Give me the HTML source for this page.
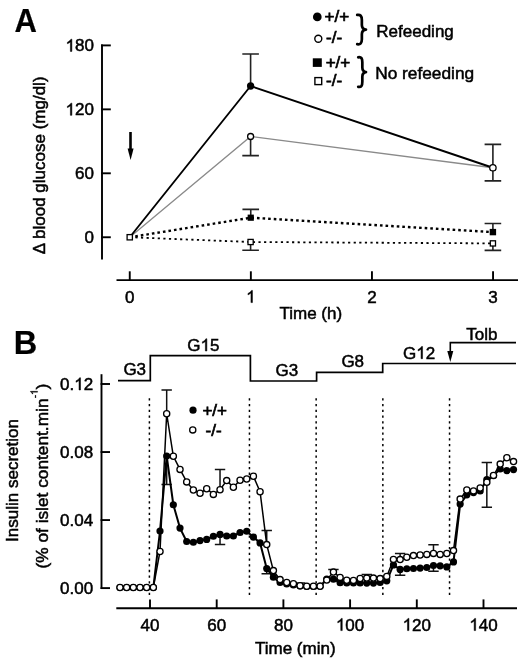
<!DOCTYPE html>
<html><head><meta charset="utf-8"><style>
html,body{margin:0;padding:0;background:#fff;}
svg{display:block;will-change:transform;}
text{font-family:"Liberation Sans",sans-serif;font-size:17px;fill:#000;stroke:#000;stroke-width:0.5px;}
text.big{font-size:32.5px;font-weight:bold;stroke-width:0.2px;}
text.lg{stroke-width:0.7px;}
.ax{stroke:#000;stroke-width:1.9;fill:none;}
</style></head><body>
<svg width="520" height="660" viewBox="0 0 520 660">
<rect width="520" height="660" fill="#fff"/>
<text transform="translate(14.6,32) scale(0.955,1)" class="big">A</text>
<line x1="102" y1="44.4" x2="102" y2="259.5" class="ax"/>
<line x1="101" y1="45.4" x2="110.8" y2="45.4" class="ax"/>
<text x="65.54" y="51.4" style="font-kerning:none"> 80</text>
<path d="M71.87 51.4 L70.38 51.4 L70.38 41.88 Q69.84 42.39 68.96 42.91 Q68.08 43.42 67.39 43.68 L67.39 42.24 Q68.64 41.65 69.58 40.81 Q70.52 39.97 70.91 39.18 L71.87 39.18Z" fill="#000" stroke="#000" stroke-width="0.5"/>
<line x1="101" y1="109.35" x2="110.8" y2="109.35" class="ax"/>
<text x="65.54" y="115.35" style="font-kerning:none"> 20</text>
<path d="M71.87 115.35 L70.38 115.35 L70.38 105.83 Q69.84 106.34 68.96 106.86 Q68.08 107.37 67.39 107.63 L67.39 106.19 Q68.64 105.6 69.58 104.76 Q70.52 103.92 70.91 103.13 L71.87 103.13Z" fill="#000" stroke="#000" stroke-width="0.5"/>
<line x1="101" y1="173.3" x2="110.8" y2="173.3" class="ax"/>
<text x="74.99" y="179.3" style="font-kerning:none">60</text>
<line x1="101" y1="237.25" x2="110.8" y2="237.25" class="ax"/>
<text x="84.45" y="243.25" style="font-kerning:none">0</text>
<line x1="116.5" y1="280.1" x2="518" y2="280.1" class="ax"/>
<line x1="129.75" y1="271.3" x2="129.75" y2="281" class="ax"/>
<text x="125.02" y="302.6" style="font-kerning:none">0</text>
<line x1="250.85" y1="271.3" x2="250.85" y2="281" class="ax"/>
<text x="246.12" y="302.6" style="font-kerning:none"> </text>
<path d="M252.46 302.6 L250.96 302.6 L250.96 293.08 Q250.42 293.59 249.54 294.11 Q248.66 294.62 247.97 294.88 L247.97 293.44 Q249.23 292.85 250.17 292.01 Q251.1 291.17 251.49 290.38 L252.46 290.38Z" fill="#000" stroke="#000" stroke-width="0.5"/>
<line x1="371.95" y1="271.3" x2="371.95" y2="281" class="ax"/>
<text x="367.22" y="302.6" style="font-kerning:none">2</text>
<line x1="493.05" y1="271.3" x2="493.05" y2="281" class="ax"/>
<text x="488.32" y="302.6" style="font-kerning:none">3</text>
<text x="279.5" y="319.3">Time (h)</text>
<text transform="translate(44.6,165.3) rotate(-90)" text-anchor="middle">&#916; blood glucose (mg/dl)</text>
<line x1="130.5" y1="132" x2="130.5" y2="150" stroke="#000" stroke-width="2.6"/>
<path d="M127.6 148.5 L133.6 148.5 L130.6 160 Z" fill="#000"/>
<path d="M250.6 86 V54 M242.3 54 H258.9" stroke="#222" stroke-width="1.6" fill="none"/>
<path d="M250.6 136.5 V155.6 M242.3 155.6 H258.9" stroke="#222" stroke-width="1.6" fill="none"/>
<path d="M250.75 217.7 V209.4 M242.45 209.4 H259.05" stroke="#222" stroke-width="1.6" fill="none"/>
<path d="M250.6 242 V250.25 M242.3 250.25 H258.9" stroke="#222" stroke-width="1.6" fill="none"/>
<path d="M492.9 167.75 V144.4 M484.6 144.4 H501.2" stroke="#222" stroke-width="1.6" fill="none"/>
<path d="M492.9 167.75 V180.9 M484.6 180.9 H501.2" stroke="#222" stroke-width="1.6" fill="none"/>
<path d="M492.9 232.1 V223.5 M484.6 223.5 H501.2" stroke="#222" stroke-width="1.6" fill="none"/>
<path d="M492.9 243.4 V250.4 M484.6 250.4 H501.2" stroke="#222" stroke-width="1.6" fill="none"/>
<polyline points="129.75,237.25 250.6,136.5 492.9,167.75" fill="none" stroke="#8a8a8a" stroke-width="1.3"/>
<polyline points="129.75,237.25 250.6,86 492.9,167.75" fill="none" stroke="#000" stroke-width="1.9"/>
<polyline points="129.75,237.25 250.75,217.7 492.9,232.1" fill="none" stroke="#000" stroke-width="2.4" stroke-dasharray="2.6 3.0"/>
<polyline points="129.75,237.25 250.6,242 492.9,243.4" fill="none" stroke="#000" stroke-width="1.8" stroke-dasharray="2.2 3.4"/>
<circle cx="250.6" cy="86" r="3.65" fill="#000"/>
<circle cx="250.6" cy="136.5" r="3" fill="#fff" stroke="#000" stroke-width="1.3"/>
<circle cx="492.9" cy="167.75" r="3.2" fill="#fff" stroke="#000" stroke-width="1.3"/>
<rect x="247.65" y="214.6" width="6.2" height="6.2" fill="#000"/>
<rect x="248" y="239.4" width="5.2" height="5.2" fill="#fff" stroke="#000" stroke-width="1.3"/>
<rect x="489.7" y="228.9" width="6.4" height="6.4" fill="#000"/>
<rect x="490.3" y="240.8" width="5.2" height="5.2" fill="#fff" stroke="#000" stroke-width="1.3"/>
<rect x="127.1" y="234.6" width="5.3" height="5.3" fill="#fff" stroke="#000" stroke-width="1.3"/>
<circle cx="317.3" cy="16.9" r="4.35" fill="#000"/>
<text x="324.6" y="21.8" class="lg">+/+</text>
<circle cx="318.3" cy="38.8" r="3.5" fill="#fff" stroke="#000" stroke-width="1.4"/>
<text x="326" y="43.0" class="lg">-/-</text>
<rect x="312.8" y="58.3" width="9" height="8.6" fill="#000"/>
<text x="325.7" y="68.1" class="lg">+/+</text>
<rect x="314.9" y="77.6" width="6.8" height="7" fill="#fff" stroke="#000" stroke-width="1.4"/>
<text x="326" y="85.9" class="lg">-/-</text>
<path d="M357.2 14.9 C360.4 14.3 361.86 16.1 361.86 19.9 L361.86 24.95 C361.86 27.95 363.46 29.25 366 29.55 C363.46 29.85 361.86 31.15 361.86 34.15 L361.86 39.2 C361.86 43 360.4 44.8 357.2 44.2" fill="none" stroke="#000" stroke-width="2.7" stroke-linecap="round" stroke-linejoin="round"/>
<text x="376.3" y="36.8">Refeeding</text>
<path d="M358.2 57.3 C361.4 56.7 362.33 58.5 362.33 62.3 L362.33 67.45 C362.33 70.45 363.93 71.75 366 72.05 C363.93 72.35 362.33 73.65 362.33 76.65 L362.33 81.8 C362.33 85.6 361.4 87.4 358.2 86.8" fill="none" stroke="#000" stroke-width="2.7" stroke-linecap="round" stroke-linejoin="round"/>
<text x="375.2" y="78.5" style="font-size:17.3px">No refeeding</text>
<text x="13.8" y="354.3" class="big">B</text>
<polyline points="118,380.6 150.3,380.6 150.3,355.7 250.4,355.7 250.4,381 316.6,381 316.6,372.4 382.7,372.4 382.7,363.5 516,363.5" fill="none" stroke="#000" stroke-width="1.7"/>
<text x="123.4" y="375">G3</text>
<text x="187.3" y="351" style="font-kerning:none">G 5</text>
<path d="M206.86 351 L205.36 351 L205.36 341.48 Q204.82 341.99 203.94 342.51 Q203.06 343.02 202.37 343.28 L202.37 341.84 Q203.63 341.25 204.57 340.41 Q205.5 339.57 205.89 338.78 L206.86 338.78Z" fill="#000" stroke="#000" stroke-width="0.5"/>
<text x="275.6" y="376.2">G3</text>
<text x="341.4" y="366.8">G8</text>
<text x="403" y="358.7" style="font-kerning:none">G 2</text>
<path d="M422.56 358.7 L421.06 358.7 L421.06 349.18 Q420.52 349.69 419.64 350.21 Q418.76 350.72 418.07 350.98 L418.07 349.54 Q419.33 348.95 420.27 348.11 Q421.2 347.27 421.59 346.48 L422.56 346.48Z" fill="#000" stroke="#000" stroke-width="0.5"/>
<text x="466.3" y="340.2">Tolb</text>
<polyline points="516,342.6 450.3,342.6 450.3,352" fill="none" stroke="#000" stroke-width="1.6"/>
<path d="M447.3 351 L453.3 351 L450.3 362 Z" fill="#000"/>
<line x1="101.5" y1="374.2" x2="101.5" y2="589" class="ax"/>
<line x1="100.6" y1="384" x2="110" y2="384" class="ax"/>
<text x="60.01" y="390" style="font-kerning:none">0. 2</text>
<path d="M80.52 390 L79.03 390 L79.03 380.48 Q78.49 380.99 77.61 381.51 Q76.73 382.02 76.04 382.28 L76.04 380.84 Q77.3 380.25 78.23 379.41 Q79.17 378.57 79.56 377.78 L80.52 377.78Z" fill="#000" stroke="#000" stroke-width="0.5"/>
<line x1="100.6" y1="452.03" x2="110" y2="452.03" class="ax"/>
<text x="60.01" y="458.03" style="font-kerning:none">0.08</text>
<line x1="100.6" y1="520.07" x2="110" y2="520.07" class="ax"/>
<text x="60.01" y="526.07" style="font-kerning:none">0.04</text>
<line x1="100.6" y1="588.1" x2="110" y2="588.1" class="ax"/>
<text x="60.01" y="594.1" style="font-kerning:none">0.00</text>
<line x1="116.3" y1="608.3" x2="517" y2="608.3" class="ax"/>
<line x1="150" y1="599.4" x2="150" y2="609" class="ax"/>
<text x="140.55" y="630.6" style="font-kerning:none">40</text>
<line x1="216.7" y1="599.4" x2="216.7" y2="609" class="ax"/>
<text x="207.25" y="630.6" style="font-kerning:none">60</text>
<line x1="283.4" y1="599.4" x2="283.4" y2="609" class="ax"/>
<text x="273.95" y="630.6" style="font-kerning:none">80</text>
<line x1="350.1" y1="599.4" x2="350.1" y2="609" class="ax"/>
<text x="335.92" y="630.6" style="font-kerning:none"> 00</text>
<path d="M342.25 630.6 L340.76 630.6 L340.76 621.08 Q340.22 621.59 339.34 622.11 Q338.46 622.62 337.77 622.88 L337.77 621.44 Q339.02 620.85 339.96 620.01 Q340.9 619.17 341.29 618.38 L342.25 618.38Z" fill="#000" stroke="#000" stroke-width="0.5"/>
<line x1="416.8" y1="599.4" x2="416.8" y2="609" class="ax"/>
<text x="402.62" y="630.6" style="font-kerning:none"> 20</text>
<path d="M408.95 630.6 L407.46 630.6 L407.46 621.08 Q406.92 621.59 406.04 622.11 Q405.16 622.62 404.47 622.88 L404.47 621.44 Q405.72 620.85 406.66 620.01 Q407.6 619.17 407.99 618.38 L408.95 618.38Z" fill="#000" stroke="#000" stroke-width="0.5"/>
<line x1="483.5" y1="599.4" x2="483.5" y2="609" class="ax"/>
<text x="469.32" y="630.6" style="font-kerning:none"> 40</text>
<path d="M475.65 630.6 L474.16 630.6 L474.16 621.08 Q473.62 621.59 472.74 622.11 Q471.86 622.62 471.17 622.88 L471.17 621.44 Q472.42 620.85 473.36 620.01 Q474.3 619.17 474.69 618.38 L475.65 618.38Z" fill="#000" stroke="#000" stroke-width="0.5"/>
<text x="255" y="654.3">Time (min)</text>
<text transform="translate(18.4,480.5) rotate(-90)" text-anchor="middle">Insulin secretion</text>
<g transform="translate(47.6,476.1) rotate(-90)">
<text x="-92.42" y="0" style="font-size:17.3px">(% of islet content.min</text>
<text x="77.77" y="-10" style="font-size:10px;stroke-width:0.35px">-</text>
<path d="M84.82 -10 L83.94 -10 L83.94 -15.6 Q83.63 -15.3 83.11 -15 Q82.59 -14.69 82.19 -14.54 L82.19 -15.39 Q82.92 -15.74 83.48 -16.23 Q84.03 -16.72 84.26 -17.19 L84.82 -17.19Z" fill="#000" stroke="#000" stroke-width="0.35"/>
<text x="86.66" y="0" style="font-size:17.3px">)</text>
</g>
<line x1="149.4" y1="398.25" x2="149.4" y2="595.5" stroke="#000" stroke-width="1.5" stroke-dasharray="2.3 3.42"/>
<line x1="249.45" y1="398.25" x2="249.45" y2="595.5" stroke="#000" stroke-width="1.5" stroke-dasharray="2.3 3.42"/>
<line x1="316.15" y1="398.25" x2="316.15" y2="595.5" stroke="#000" stroke-width="1.5" stroke-dasharray="2.3 3.42"/>
<line x1="382.85" y1="398.25" x2="382.85" y2="595.5" stroke="#000" stroke-width="1.5" stroke-dasharray="2.3 3.42"/>
<line x1="449.55" y1="398.25" x2="449.55" y2="595.5" stroke="#000" stroke-width="1.5" stroke-dasharray="2.3 3.42"/>
<path d="M166.68 413.75 V390 M161.48 390 H171.88" stroke="#111" stroke-width="1.5" fill="none"/>
<path d="M166.68 456 V484.4 M161.48 484.4 H171.88" stroke="#111" stroke-width="1.5" fill="none"/>
<path d="M220.03 489.75 V469.4 M214.84 469.4 H225.23" stroke="#111" stroke-width="1.5" fill="none"/>
<path d="M220.03 534.4 V544.4 M214.84 544.4 H225.23" stroke="#111" stroke-width="1.5" fill="none"/>
<path d="M266.73 544.6 V530.6 M261.53 530.6 H271.93" stroke="#111" stroke-width="1.5" fill="none"/>
<path d="M266.73 568.6 V573.8 M261.53 573.8 H271.93" stroke="#111" stroke-width="1.5" fill="none"/>
<path d="M300.07 585.7 V583 M294.88 583 H305.27" stroke="#111" stroke-width="1.5" fill="none"/>
<path d="M333.43 572.1 V569.6 M328.23 569.6 H338.62" stroke="#111" stroke-width="1.5" fill="none"/>
<path d="M366.77 578.1 V574.5 M361.57 574.5 H371.97" stroke="#111" stroke-width="1.5" fill="none"/>
<path d="M400.12 559.6 V553.5 M394.93 553.5 H405.32" stroke="#111" stroke-width="1.5" fill="none"/>
<path d="M400.12 569.4 V575.2 M394.93 575.2 H405.32" stroke="#111" stroke-width="1.5" fill="none"/>
<path d="M433.48 553.4 V544.75 M428.28 544.75 H438.68" stroke="#111" stroke-width="1.5" fill="none"/>
<path d="M433.48 565.5 V571.2 M428.28 571.2 H438.68" stroke="#111" stroke-width="1.5" fill="none"/>
<path d="M486.83 482.3 V462.6 M481.63 462.6 H492.03" stroke="#111" stroke-width="1.5" fill="none"/>
<path d="M486.83 479.5 V507.3 M481.63 507.3 H492.03" stroke="#111" stroke-width="1.5" fill="none"/>
<polyline points="153.34,587.5 160,531 166.68,456 173.34,504.75 180.01,528.1 186.69,541.5 193.35,542.25 200.03,540.6 206.69,539.4 213.37,536.25 220.03,534.4 226.7,536 233.38,536 240.05,532.5 246.72,531.25 253.38,537.1 260.06,542.9 266.73,568.6 273.39,577.2 280.06,582.5 286.74,584 293.4,585 300.07,586 306.75,586.5 313.41,586.5 320.09,586.2 326.75,579 333.43,579.2 340.1,582.7 346.76,583 353.44,583 360.11,583 366.77,583.1 373.44,583.1 380.12,582.5 386.78,580.8 393.45,564.9 400.12,569.4 406.8,568.75 413.46,568.5 420.13,568.1 426.81,567.5 433.48,565.5 440.14,565.8 446.81,566.9 453.49,561.9 460.15,504.1 466.82,494.8 473.5,492.6 480.17,491 486.83,479.5 493.5,475.5 500.18,469 506.84,470.6 513.51,469.6" fill="none" stroke="#000" stroke-width="2.0"/>
<circle cx="119.98" cy="587.5" r="3.6" fill="#000"/>
<circle cx="126.66" cy="587.5" r="3.6" fill="#000"/>
<circle cx="133.32" cy="587.5" r="3.6" fill="#000"/>
<circle cx="140" cy="587.5" r="3.6" fill="#000"/>
<circle cx="146.66" cy="587.5" r="3.6" fill="#000"/>
<circle cx="153.34" cy="587.5" r="3.6" fill="#000"/>
<circle cx="160" cy="531" r="3.6" fill="#000"/>
<circle cx="166.68" cy="456" r="3.6" fill="#000"/>
<circle cx="173.34" cy="504.75" r="3.6" fill="#000"/>
<circle cx="180.01" cy="528.1" r="3.6" fill="#000"/>
<circle cx="186.69" cy="541.5" r="3.6" fill="#000"/>
<circle cx="193.35" cy="542.25" r="3.6" fill="#000"/>
<circle cx="200.03" cy="540.6" r="3.6" fill="#000"/>
<circle cx="206.69" cy="539.4" r="3.6" fill="#000"/>
<circle cx="213.37" cy="536.25" r="3.6" fill="#000"/>
<circle cx="220.03" cy="534.4" r="3.6" fill="#000"/>
<circle cx="226.7" cy="536" r="3.6" fill="#000"/>
<circle cx="233.38" cy="536" r="3.6" fill="#000"/>
<circle cx="240.05" cy="532.5" r="3.6" fill="#000"/>
<circle cx="246.72" cy="531.25" r="3.6" fill="#000"/>
<circle cx="253.38" cy="537.1" r="3.6" fill="#000"/>
<circle cx="260.06" cy="542.9" r="3.6" fill="#000"/>
<circle cx="266.73" cy="568.6" r="3.6" fill="#000"/>
<circle cx="273.39" cy="577.2" r="3.6" fill="#000"/>
<circle cx="280.06" cy="582.5" r="3.6" fill="#000"/>
<circle cx="286.74" cy="584" r="3.6" fill="#000"/>
<circle cx="293.4" cy="585" r="3.6" fill="#000"/>
<circle cx="300.07" cy="586" r="3.6" fill="#000"/>
<circle cx="306.75" cy="586.5" r="3.6" fill="#000"/>
<circle cx="313.41" cy="586.5" r="3.6" fill="#000"/>
<circle cx="320.09" cy="586.2" r="3.6" fill="#000"/>
<circle cx="326.75" cy="579" r="3.6" fill="#000"/>
<circle cx="333.43" cy="579.2" r="3.6" fill="#000"/>
<circle cx="340.1" cy="582.7" r="3.6" fill="#000"/>
<circle cx="346.76" cy="583" r="3.6" fill="#000"/>
<circle cx="353.44" cy="583" r="3.6" fill="#000"/>
<circle cx="360.11" cy="583" r="3.6" fill="#000"/>
<circle cx="366.77" cy="583.1" r="3.6" fill="#000"/>
<circle cx="373.44" cy="583.1" r="3.6" fill="#000"/>
<circle cx="380.12" cy="582.5" r="3.6" fill="#000"/>
<circle cx="386.78" cy="580.8" r="3.6" fill="#000"/>
<circle cx="393.45" cy="564.9" r="3.6" fill="#000"/>
<circle cx="400.12" cy="569.4" r="3.6" fill="#000"/>
<circle cx="406.8" cy="568.75" r="3.6" fill="#000"/>
<circle cx="413.46" cy="568.5" r="3.6" fill="#000"/>
<circle cx="420.13" cy="568.1" r="3.6" fill="#000"/>
<circle cx="426.81" cy="567.5" r="3.6" fill="#000"/>
<circle cx="433.48" cy="565.5" r="3.6" fill="#000"/>
<circle cx="440.14" cy="565.8" r="3.6" fill="#000"/>
<circle cx="446.81" cy="566.9" r="3.6" fill="#000"/>
<circle cx="453.49" cy="561.9" r="3.6" fill="#000"/>
<circle cx="460.15" cy="504.1" r="3.6" fill="#000"/>
<circle cx="466.82" cy="494.8" r="3.6" fill="#000"/>
<circle cx="473.5" cy="492.6" r="3.6" fill="#000"/>
<circle cx="480.17" cy="491" r="3.6" fill="#000"/>
<circle cx="486.83" cy="479.5" r="3.6" fill="#000"/>
<circle cx="493.5" cy="475.5" r="3.6" fill="#000"/>
<circle cx="500.18" cy="469" r="3.6" fill="#000"/>
<circle cx="506.84" cy="470.6" r="3.6" fill="#000"/>
<circle cx="513.51" cy="469.6" r="3.6" fill="#000"/>
<polyline points="119.98,587.5 126.66,587.5 133.32,587.5 140,587.5 146.66,587.5 153.34,587.5 160,551.5 166.68,413.75 173.34,456.25 180.01,469.4 186.69,481.9 193.35,490 200.03,493.3 206.69,488.75 213.37,494.4 220.03,489.75 226.7,480.6 233.38,487.25 240.05,480.25 246.72,479 253.38,476.25 260.06,491.7 266.73,544.6 273.39,570.6 280.06,579.6 286.74,582.5 293.4,583.7 300.07,585.7 306.75,586.25 313.41,586.25 320.09,586.2 326.75,580.1 333.43,572.1 340.1,577.4 346.76,580.2 353.44,580.4 360.11,578.5 366.77,578.1 373.44,578.1 380.12,578.6 386.78,576.4 393.45,559.4 400.12,559.6 406.8,557.25 413.46,555.6 420.13,555 426.81,554.4 433.48,553.4 440.14,554.4 446.81,553.5 453.49,550.6 460.15,499.1 466.82,490 473.5,490.9 480.17,488 486.83,482.3 493.5,475.4 500.18,464.1 506.84,457.7 513.51,461.6" fill="none" stroke="#000" stroke-width="1.5"/>
<circle cx="119.98" cy="587.5" r="3.1" fill="#fff" stroke="#000" stroke-width="1.3"/>
<circle cx="126.66" cy="587.5" r="3.1" fill="#fff" stroke="#000" stroke-width="1.3"/>
<circle cx="133.32" cy="587.5" r="3.1" fill="#fff" stroke="#000" stroke-width="1.3"/>
<circle cx="140" cy="587.5" r="3.1" fill="#fff" stroke="#000" stroke-width="1.3"/>
<circle cx="146.66" cy="587.5" r="3.1" fill="#fff" stroke="#000" stroke-width="1.3"/>
<circle cx="153.34" cy="587.5" r="3.1" fill="#fff" stroke="#000" stroke-width="1.3"/>
<circle cx="160" cy="551.5" r="3.1" fill="#fff" stroke="#000" stroke-width="1.3"/>
<circle cx="166.68" cy="413.75" r="3.1" fill="#fff" stroke="#000" stroke-width="1.3"/>
<circle cx="173.34" cy="456.25" r="3.1" fill="#fff" stroke="#000" stroke-width="1.3"/>
<circle cx="180.01" cy="469.4" r="3.1" fill="#fff" stroke="#000" stroke-width="1.3"/>
<circle cx="186.69" cy="481.9" r="3.1" fill="#fff" stroke="#000" stroke-width="1.3"/>
<circle cx="193.35" cy="490" r="3.1" fill="#fff" stroke="#000" stroke-width="1.3"/>
<circle cx="200.03" cy="493.3" r="3.1" fill="#fff" stroke="#000" stroke-width="1.3"/>
<circle cx="206.69" cy="488.75" r="3.1" fill="#fff" stroke="#000" stroke-width="1.3"/>
<circle cx="213.37" cy="494.4" r="3.1" fill="#fff" stroke="#000" stroke-width="1.3"/>
<circle cx="220.03" cy="489.75" r="3.1" fill="#fff" stroke="#000" stroke-width="1.3"/>
<circle cx="226.7" cy="480.6" r="3.1" fill="#fff" stroke="#000" stroke-width="1.3"/>
<circle cx="233.38" cy="487.25" r="3.1" fill="#fff" stroke="#000" stroke-width="1.3"/>
<circle cx="240.05" cy="480.25" r="3.1" fill="#fff" stroke="#000" stroke-width="1.3"/>
<circle cx="246.72" cy="479" r="3.1" fill="#fff" stroke="#000" stroke-width="1.3"/>
<circle cx="253.38" cy="476.25" r="3.1" fill="#fff" stroke="#000" stroke-width="1.3"/>
<circle cx="260.06" cy="491.7" r="3.1" fill="#fff" stroke="#000" stroke-width="1.3"/>
<circle cx="266.73" cy="544.6" r="3.1" fill="#fff" stroke="#000" stroke-width="1.3"/>
<circle cx="273.39" cy="570.6" r="3.1" fill="#fff" stroke="#000" stroke-width="1.3"/>
<circle cx="280.06" cy="579.6" r="3.1" fill="#fff" stroke="#000" stroke-width="1.3"/>
<circle cx="286.74" cy="582.5" r="3.1" fill="#fff" stroke="#000" stroke-width="1.3"/>
<circle cx="293.4" cy="583.7" r="3.1" fill="#fff" stroke="#000" stroke-width="1.3"/>
<circle cx="300.07" cy="585.7" r="3.1" fill="#fff" stroke="#000" stroke-width="1.3"/>
<circle cx="306.75" cy="586.25" r="3.1" fill="#fff" stroke="#000" stroke-width="1.3"/>
<circle cx="313.41" cy="586.25" r="3.1" fill="#fff" stroke="#000" stroke-width="1.3"/>
<circle cx="320.09" cy="586.2" r="3.1" fill="#fff" stroke="#000" stroke-width="1.3"/>
<circle cx="326.75" cy="580.1" r="3.1" fill="#fff" stroke="#000" stroke-width="1.3"/>
<circle cx="333.43" cy="572.1" r="3.1" fill="#fff" stroke="#000" stroke-width="1.3"/>
<circle cx="340.1" cy="577.4" r="3.1" fill="#fff" stroke="#000" stroke-width="1.3"/>
<circle cx="346.76" cy="580.2" r="3.1" fill="#fff" stroke="#000" stroke-width="1.3"/>
<circle cx="353.44" cy="580.4" r="3.1" fill="#fff" stroke="#000" stroke-width="1.3"/>
<circle cx="360.11" cy="578.5" r="3.1" fill="#fff" stroke="#000" stroke-width="1.3"/>
<circle cx="366.77" cy="578.1" r="3.1" fill="#fff" stroke="#000" stroke-width="1.3"/>
<circle cx="373.44" cy="578.1" r="3.1" fill="#fff" stroke="#000" stroke-width="1.3"/>
<circle cx="380.12" cy="578.6" r="3.1" fill="#fff" stroke="#000" stroke-width="1.3"/>
<circle cx="386.78" cy="576.4" r="3.1" fill="#fff" stroke="#000" stroke-width="1.3"/>
<circle cx="393.45" cy="559.4" r="3.1" fill="#fff" stroke="#000" stroke-width="1.3"/>
<circle cx="400.12" cy="559.6" r="3.1" fill="#fff" stroke="#000" stroke-width="1.3"/>
<circle cx="406.8" cy="557.25" r="3.1" fill="#fff" stroke="#000" stroke-width="1.3"/>
<circle cx="413.46" cy="555.6" r="3.1" fill="#fff" stroke="#000" stroke-width="1.3"/>
<circle cx="420.13" cy="555" r="3.1" fill="#fff" stroke="#000" stroke-width="1.3"/>
<circle cx="426.81" cy="554.4" r="3.1" fill="#fff" stroke="#000" stroke-width="1.3"/>
<circle cx="433.48" cy="553.4" r="3.1" fill="#fff" stroke="#000" stroke-width="1.3"/>
<circle cx="440.14" cy="554.4" r="3.1" fill="#fff" stroke="#000" stroke-width="1.3"/>
<circle cx="446.81" cy="553.5" r="3.1" fill="#fff" stroke="#000" stroke-width="1.3"/>
<circle cx="453.49" cy="550.6" r="3.1" fill="#fff" stroke="#000" stroke-width="1.3"/>
<circle cx="460.15" cy="499.1" r="3.1" fill="#fff" stroke="#000" stroke-width="1.3"/>
<circle cx="466.82" cy="490" r="3.1" fill="#fff" stroke="#000" stroke-width="1.3"/>
<circle cx="473.5" cy="490.9" r="3.1" fill="#fff" stroke="#000" stroke-width="1.3"/>
<circle cx="480.17" cy="488" r="3.1" fill="#fff" stroke="#000" stroke-width="1.3"/>
<circle cx="486.83" cy="482.3" r="3.1" fill="#fff" stroke="#000" stroke-width="1.3"/>
<circle cx="493.5" cy="475.4" r="3.1" fill="#fff" stroke="#000" stroke-width="1.3"/>
<circle cx="500.18" cy="464.1" r="3.1" fill="#fff" stroke="#000" stroke-width="1.3"/>
<circle cx="506.84" cy="457.7" r="3.1" fill="#fff" stroke="#000" stroke-width="1.3"/>
<circle cx="513.51" cy="461.6" r="3.1" fill="#fff" stroke="#000" stroke-width="1.3"/>
<circle cx="193" cy="410.2" r="3.6" fill="#000"/>
<text x="202.4" y="416.4" class="lg">+/+</text>
<circle cx="192.75" cy="429.9" r="3.1" fill="#fff" stroke="#000" stroke-width="1.3"/>
<text x="205.5" y="435.9" class="lg">-/-</text>
</svg>
</body></html>
